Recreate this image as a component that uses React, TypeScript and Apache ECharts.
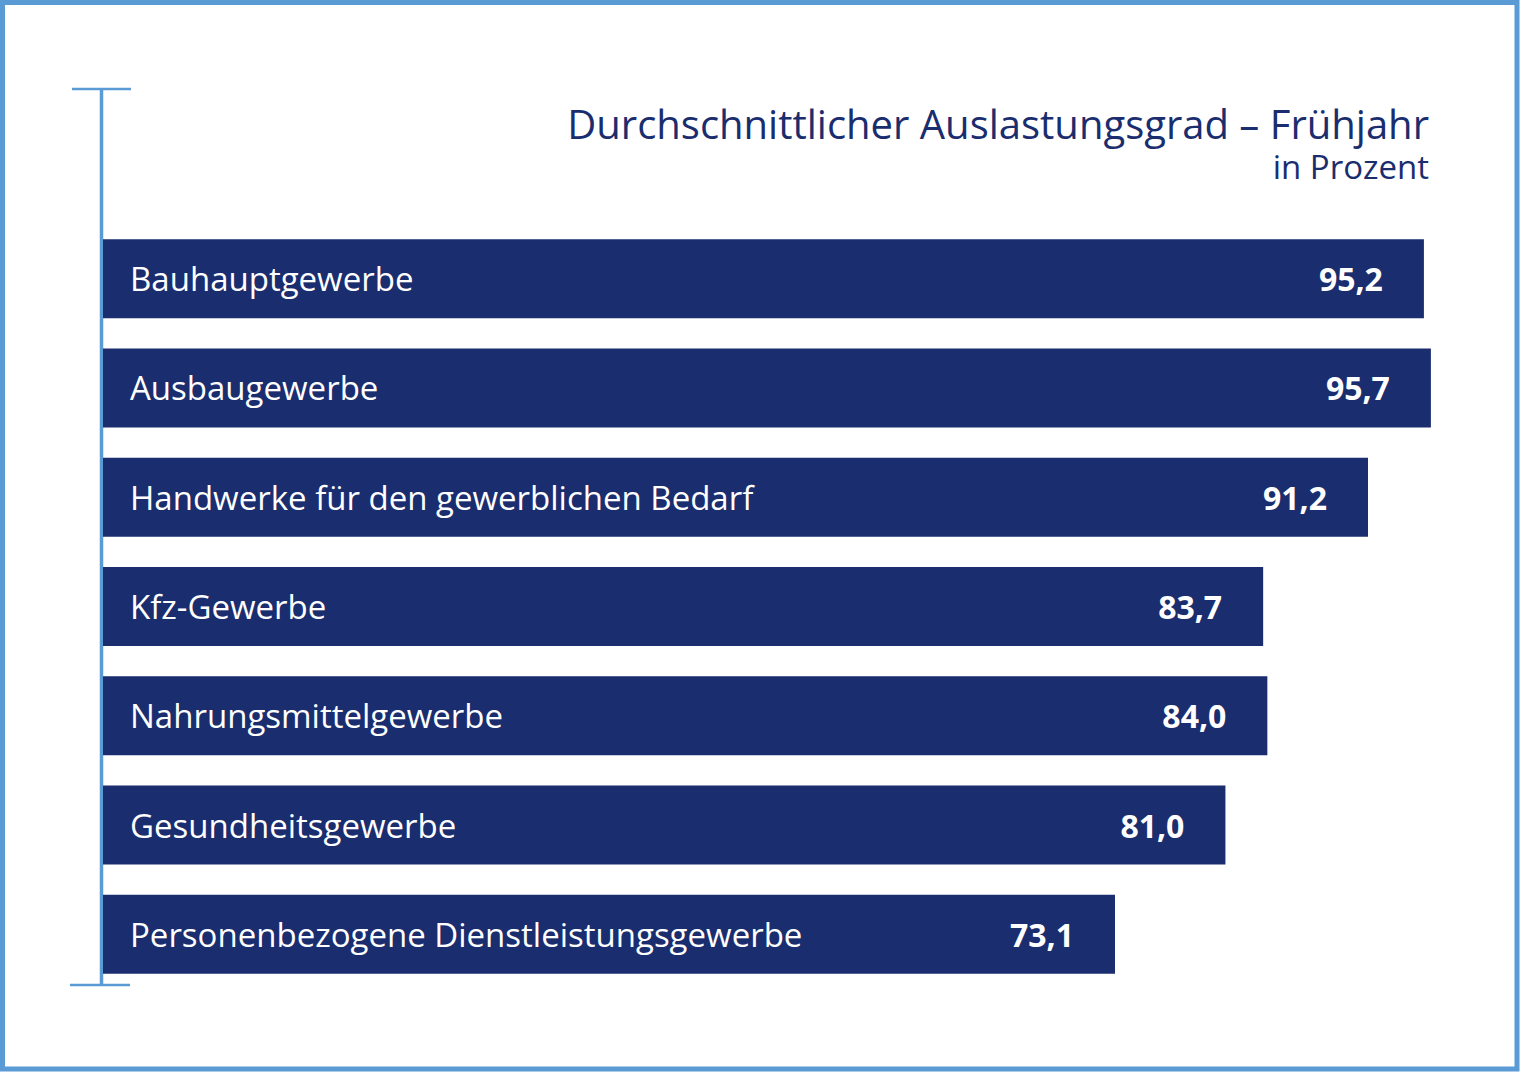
import React, { useEffect, useRef } from "react";
import * as echarts from "echarts";

const categories = [
  "Bauhauptgewerbe",
  "Ausbaugewerbe",
  "Handwerke für den gewerblichen Bedarf",
  "Kfz-Gewerbe",
  "Nahrungsmittelgewerbe",
  "Gesundheitsgewerbe",
  "Personenbezogene Dienstleistungsgewerbe",
];
const values = [95.2, 95.7, 91.2, 83.7, 84.0, 81.0, 73.1];

const titleText = "Durchschnittlicher Auslastungsgrad – Frühjahr";
const subText = "in Prozent";

const NAVY = "#1a2d6e";
const LIGHT = "#5b9bd5";
const FONT = "Open Sans";

export default function App() {
  const ref = useRef<HTMLDivElement>(null);
  useEffect(() => {
    if (!ref.current) return;
    const chart = echarts.init(ref.current, null, { renderer: "svg" });
    const fmt = (v: number) => v.toFixed(1).replace(".", ",");
    chart.setOption({
      animation: false,
      backgroundColor: "#ffffff",
      grid: { left: 103, top: 224, width: 1388, height: 765, containLabel: false },
      xAxis: { type: "value", min: 0.7, max: 100, show: false },
      yAxis: {
        type: "category",
        data: categories,
        inverse: true,
        show: false,
      },
      graphic: [
        {
          type: "rect",
          shape: { x: 2.5, y: 2.5, width: 1514.5, height: 1066.5 },
          style: { fill: "none", stroke: LIGHT, lineWidth: 5 },
          silent: true,
        },
        {
          type: "line",
          shape: { x1: 101.5, y1: 89, x2: 101.5, y2: 985 },
          style: { stroke: LIGHT, lineWidth: 3.5 },
          silent: true,
        },
        {
          type: "line",
          shape: { x1: 72, y1: 89, x2: 131, y2: 89 },
          style: { stroke: LIGHT, lineWidth: 2.5 },
          silent: true,
        },
        {
          type: "line",
          shape: { x1: 70, y1: 985, x2: 130, y2: 985 },
          style: { stroke: LIGHT, lineWidth: 2.5 },
          silent: true,
        },
        {
          type: "text",
          x: 1429,
          y: 123,
          style: {
            text: titleText,
            fill: NAVY,
            font: `normal 40px "${FONT}"`,
            textAlign: "right",
            textVerticalAlign: "middle",
          },
          silent: true,
        },
        {
          type: "text",
          x: 1429,
          y: 166,
          style: {
            text: subText,
            fill: NAVY,
            font: `normal 33px "${FONT}"`,
            textAlign: "right",
            textVerticalAlign: "middle",
          },
          silent: true,
        },
      ],
      series: [
        {
          type: "bar",
          data: values,
          barWidth: 79,
          clip: true,
          itemStyle: { color: NAVY },
          label: {
            show: true,
            position: "insideLeft",
            distance: 27,
            formatter: (p: any) => categories[p.dataIndex],
            color: "#ffffff",
            fontFamily: FONT,
            fontSize: 33,
          },
        },
        {
          type: "bar",
          data: values,
          barWidth: 79,
          barGap: "-100%",
          clip: true,
          itemStyle: { color: "rgba(0,0,0,0)" },
          label: {
            show: true,
            position: "insideRight",
            distance: 41,
            formatter: (p: any) => fmt(p.value),
            color: "#ffffff",
            fontFamily: FONT,
            fontSize: 32,
            fontWeight: "bold",
          },
        },
      ],
    });
    return () => chart.dispose();
  }, []);
  return (
    <div
      ref={ref}
      style={{ position: "fixed", left: 0, top: 0, width: 1520, height: 1073 }}
    />
  );
}
